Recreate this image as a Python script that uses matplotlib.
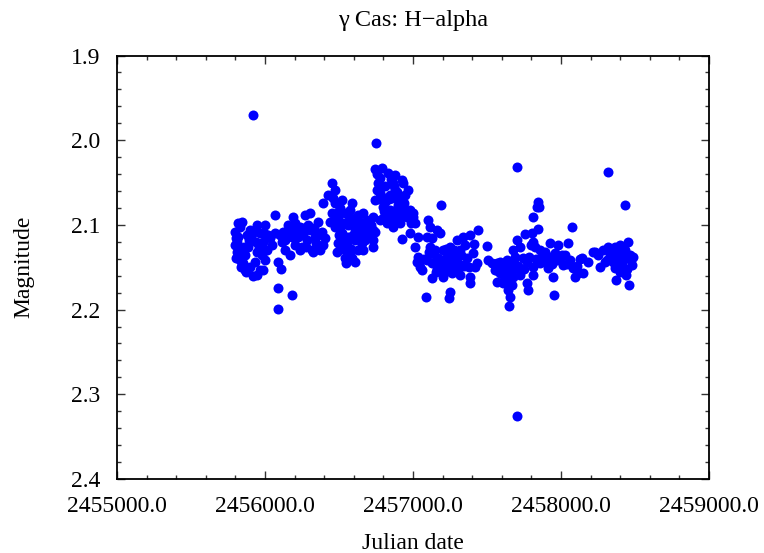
import matplotlib
matplotlib.use('Agg')
import matplotlib.pyplot as plt
from matplotlib.ticker import MultipleLocator, FormatStrFormatter
import numpy as np

# H-alpha magnitudes of gamma Cas, one block per observing season
# (Julian date minus 2450000, magnitude)
jd_s1 = [5818, 5845, 5797, 5818, 5811, 5811, 5831, 5851, 5865, 5899, 5919, 5946, 5885, 5912,
         5878, 5946, 5966, 6000, 5987, 5946, 5980, 6000, 5987, 6014, 6047, 5919, 6068, 6088,
         6108, 6088, 6182, 6088, 5797, 5831, 5804, 5858, 5899, 5932, 5966, 5845, 5872, 6020,
         5824, 5838, 5892, 5926, 5960, 5993, 6034, 5804, 5865, 5939]
mag_s1 = [2.098, 2.097, 2.108, 2.114, 2.120, 2.132, 2.141, 2.145, 2.153, 2.150, 2.160, 2.159, 2.126, 2.118,
          2.112, 2.100, 2.109, 2.100, 2.120, 2.132, 2.136, 2.141, 2.153, 2.130, 2.124, 1.970, 2.088, 2.144,
          2.152, 2.174, 2.183, 2.199, 2.124, 2.103, 2.139, 2.126, 2.106, 2.144, 2.153, 2.147, 2.156, 2.112,
          2.128, 2.150, 2.118, 2.108, 2.126, 2.110, 2.116, 2.116, 2.136, 2.120]

jd_s2 = [6068, 6122, 6155, 6169, 6189, 6203, 6223, 6270, 6291, 6250, 6318, 6358, 6338, 6385,
         6405, 6372, 6324, 6101, 6135, 6182, 6203, 6237, 6257, 6284, 6304, 6345, 6237, 6155,
         6304, 6358, 6135, 6115, 6176, 6216, 6264, 6331, 6392, 6196, 6277]
mag_s2 = [2.109, 2.108, 2.114, 2.136, 2.091, 2.098, 2.114, 2.088, 2.100, 2.126, 2.130, 2.097, 2.114, 2.108,
          2.115, 2.130, 2.132, 2.112, 2.118, 2.109, 2.124, 2.103, 2.112, 2.118, 2.106, 2.121, 2.130, 2.100,
          2.086, 2.112, 2.130, 2.120, 2.104, 2.110, 2.104, 2.104, 2.124, 2.116, 2.126]

jd_s3 = [6453, 6426, 6392, 6473, 6520, 6588, 6453, 6493, 6541, 6588, 6628, 6473, 6520, 6561,
         6608, 6493, 6541, 6487, 6588, 6628, 6655, 6574, 6608, 6541, 6642, 6676, 6473, 6507,
         6561, 6527, 6608, 6655, 6507, 6574, 6642, 6676, 6439, 6460, 6480, 6500, 6514, 6534,
         6554, 6568, 6595, 6615, 6635, 6662, 6500, 6547, 6581]
mag_s3 = [2.051, 2.065, 2.074, 2.074, 2.071, 2.074, 2.086, 2.092, 2.086, 2.094, 2.088, 2.102, 2.109, 2.114,
          2.106, 2.121, 2.130, 2.132, 2.139, 2.130, 2.121, 2.136, 2.144, 2.139, 2.128, 2.118, 2.059, 2.080,
          2.100, 2.118, 2.118, 2.106, 2.103, 2.082, 2.097, 2.100, 2.097, 2.068, 2.094, 2.112, 2.126, 2.098,
          2.122, 2.090, 2.112, 2.098, 2.110, 2.106, 2.084, 2.145, 2.128]

jd_s4 = [6750, 6743, 6791, 6831, 6878, 6926, 6865, 6933, 6966, 6764, 6757, 6777, 6743, 6811,
         6858, 6912, 6892, 6797, 6845, 6892, 6933, 6980, 7000, 6960, 6912, 6865, 6824, 6777,
         6730, 6689, 6662, 6662, 6655, 6662, 6730, 6730, 6730, 6709, 6926, 6980, 7014, 7000,
         7014, 6811, 6878, 6777, 6946, 6845, 6899, 6757, 6770, 6784, 6804, 6838, 6851, 6872,
         6885, 6905, 6919, 6940, 6953, 6770, 6797, 6824, 6858, 6885, 6716, 6696, 6743, 6987]
mag_s4 = [2.003, 2.034, 2.033, 2.039, 2.041, 2.047, 2.051, 2.051, 2.059, 2.051, 2.059, 2.062, 2.071, 2.073,
          2.068, 2.073, 2.061, 2.079, 2.082, 2.086, 2.080, 2.082, 2.086, 2.091, 2.098, 2.102, 2.098, 2.094,
          2.091, 2.094, 2.086, 2.102, 2.114, 2.130, 2.106, 2.118, 2.126, 2.114, 2.117, 2.109, 2.098, 2.091,
          2.126, 2.054, 2.059, 2.045, 2.065, 2.065, 2.077, 2.040, 2.056, 2.066, 2.084, 2.070, 2.046, 2.054,
          2.082, 2.066, 2.090, 2.074, 2.088, 2.070, 2.092, 2.090, 2.092, 2.094, 2.100, 2.108, 2.108, 2.098]

jd_s5 = [7189, 7101, 7115, 7162, 7182, 7034, 7095, 7128, 7115, 7034, 7027, 7061, 7095, 7128,
         7128, 7088, 7169, 7203, 7250, 7297, 7338, 7385, 7439, 7230, 7270, 7318, 7237, 7297,
         7365, 7405, 7432, 7216, 7264, 7318, 7385, 7385, 7419, 7250, 7243, 7162, 7203, 7284,
         7331, 7237, 7351, 7182, 7148, 7047, 7074, 7142, 7196, 7223, 7257, 7304, 7345, 7378,
         7412, 7108, 7155, 7277, 7324]
mag_s5 = [2.077, 2.094, 2.102, 2.106, 2.109, 2.114, 2.114, 2.115, 2.126, 2.138, 2.144, 2.153, 2.141, 2.145,
          2.163, 2.185, 2.139, 2.130, 2.126, 2.118, 2.114, 2.112, 2.106, 2.138, 2.133, 2.130, 2.145, 2.144,
          2.139, 2.133, 2.145, 2.156, 2.157, 2.159, 2.161, 2.169, 2.150, 2.179, 2.186, 2.152, 2.161, 2.139,
          2.147, 2.151, 2.124, 2.147, 2.130, 2.150, 2.140, 2.134, 2.142, 2.128, 2.150, 2.152, 2.148, 2.150,
          2.122, 2.132, 2.156, 2.130, 2.136]

jd_s6 = [7500, 7507, 7534, 7568, 7588, 7568, 7608, 7608, 7622, 7642, 7656, 7649, 7676, 7635,
         7676, 7689, 7703, 7723, 7723, 7703, 7622, 7656, 7588, 7554, 7669, 7696, 7703, 7615,
         7629, 7642, 7662, 7683, 7595, 7575, 7649, 7709]
mag_s6 = [2.125, 2.141, 2.145, 2.145, 2.157, 2.167, 2.169, 2.153, 2.165, 2.177, 2.185, 2.196, 2.161, 2.141,
          2.130, 2.138, 2.118, 2.126, 2.159, 2.032, 2.151, 2.147, 2.144, 2.153, 2.171, 2.151, 2.326, 2.160,
          2.148, 2.158, 2.156, 2.145, 2.150, 2.155, 2.166, 2.148]

jd_s7 = [7845, 7838, 7851, 7811, 8074, 7845, 7757, 7804, 7811, 7824, 7926, 7980, 8047, 7743,
         7770, 7777, 7811, 7811, 7858, 7892, 7926, 7960, 7993, 8014, 8061, 8081, 8095, 8115,
         7946, 7953, 8142, 8149, 8183, 7892, 8027, 7912, 7770, 7858, 7784, 7797, 7831, 7872,
         7905, 7939, 7973, 8007, 8041, 8108, 8129, 7750]
mag_s7 = [2.073, 2.079, 2.079, 2.091, 2.102, 2.105, 2.111, 2.109, 2.120, 2.126, 2.121, 2.124, 2.121, 2.139,
          2.169, 2.177, 2.159, 2.150, 2.145, 2.132, 2.138, 2.133, 2.139, 2.147, 2.141, 2.151, 2.161, 2.157,
          2.161, 2.183, 2.139, 2.157, 2.144, 2.144, 2.136, 2.151, 2.144, 2.130, 2.138, 2.124, 2.140, 2.138,
          2.140, 2.146, 2.142, 2.136, 2.146, 2.148, 2.140, 2.152]

jd_s8 = [8216, 8230, 8264, 8284, 8318, 8345, 8365, 8399, 8453, 8311, 8351, 8385, 8419, 8466,
         8480, 8487, 8365, 8399, 8439, 8372, 8460, 8318, 8433, 8331, 8433, 8412, 8297, 8324,
         8338, 8358, 8378, 8405, 8426, 8446, 8473, 8250]
mag_s8 = [2.132, 2.132, 2.150, 2.130, 2.126, 2.132, 2.126, 2.124, 2.120, 2.141, 2.144, 2.138, 2.141, 2.136,
          2.147, 2.138, 2.151, 2.156, 2.159, 2.165, 2.171, 2.038, 2.077, 2.136, 2.130, 2.147, 2.144, 2.130,
          2.138, 2.134, 2.146, 2.132, 2.140, 2.152, 2.142, 2.136]

jd = 2450000 + np.array(jd_s1 + jd_s2 + jd_s3 + jd_s4 + jd_s5 + jd_s6 + jd_s7 + jd_s8, dtype=float)
mag = np.array(mag_s1 + mag_s2 + mag_s3 + mag_s4 + mag_s5 + mag_s6 + mag_s7 + mag_s8)

plt.rcParams['font.family'] = ['Liberation Serif', 'DejaVu Serif']

fig = plt.figure(figsize=(7.64, 5.53), dpi=100)
ax = fig.add_axes([117/764, 1 - 479/553, 592/764, 423.5/553])

ax.plot(jd, mag, 'o', color='#0000ff', markersize=7.2, markeredgewidth=0)

ax.set_xlim(2455000, 2459000)
ax.set_ylim(2.4, 1.9)
ax.xaxis.set_major_locator(MultipleLocator(1000))
ax.xaxis.set_minor_locator(MultipleLocator(200))
ax.yaxis.set_major_locator(MultipleLocator(0.1))
ax.yaxis.set_minor_locator(MultipleLocator(0.02))
ax.xaxis.set_major_formatter(FormatStrFormatter('%.1f'))
ax.yaxis.set_major_formatter(FormatStrFormatter('%.1f'))
ax.tick_params(which='both', direction='in', top=True, right=True, labelsize=17, width=1.0, color='#333333')
ax.tick_params(which='major', length=6)
ax.tick_params(which='minor', length=3)
ax.tick_params(axis='x', which='major', pad=12)
ax.tick_params(axis='y', which='major', pad=12)
for s in ax.spines.values():
    s.set_linewidth(1.3)

ax.set_xlabel('Julian date', fontsize=17, labelpad=12)
ax.set_ylabel('Magnitude', fontsize=17, labelpad=26)
ax.set_title('\u03b3 Cas: H\u2212alpha', fontsize=17.5, pad=21)

plt.savefig('out.png', dpi=100)
